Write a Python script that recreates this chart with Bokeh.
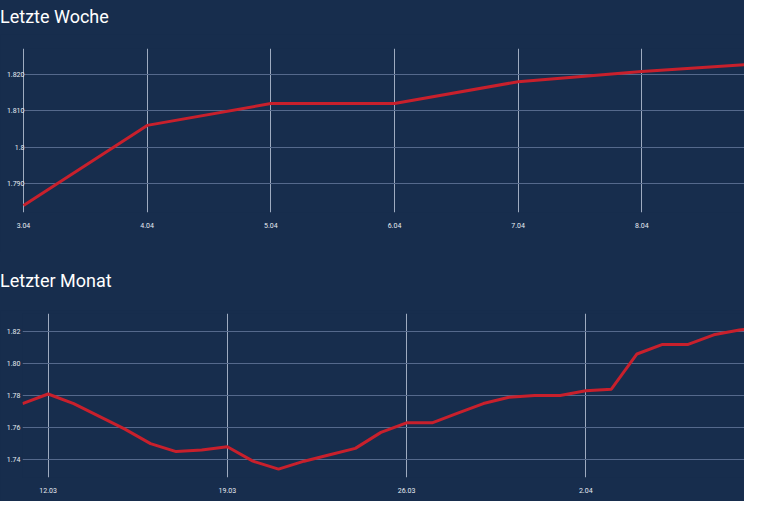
import pandas as pd
from bokeh.plotting import figure
from bokeh.layouts import column
from bokeh.models import FixedTicker, Range1d, Div
from bokeh.embed import file_html
from bokeh.resources import INLINE

# ---- data: last week ----
week_dates = ["2023-04-03", "2023-04-04", "2023-04-05", "2023-04-06",
              "2023-04-07", "2023-04-08", "2023-04-09"]
week_values = [1.784, 1.806, 1.812, 1.812, 1.818, 1.8208, 1.823]
week_x_ticks = ["2023-04-03", "2023-04-04", "2023-04-05", "2023-04-06",
                "2023-04-07", "2023-04-08"]
week_x_labels = ["3.04", "4.04", "5.04", "6.04", "7.04", "8.04"]
week_y_ticks = [1.790, 1.800, 1.810, 1.820]
week_y_labels = ["1.790", "1.8", "1.810", "1.820"]

# ---- data: last month ----
month_dates = pd.date_range("2023-03-11", "2023-04-09", freq="D").strftime("%Y-%m-%d").tolist()
month_values = [1.775, 1.781, 1.775, 1.767, 1.759, 1.750, 1.745, 1.746, 1.748, 1.739,
                1.734, 1.739, 1.743, 1.747, 1.757, 1.763, 1.763, 1.769, 1.775, 1.779,
                1.780, 1.780, 1.783, 1.784, 1.806, 1.812, 1.812, 1.818, 1.821, 1.823]
month_x_ticks = ["2023-03-12", "2023-03-19", "2023-03-26", "2023-04-02"]
month_x_labels = ["12.03", "19.03", "26.03", "2.04"]
month_y_ticks = [1.74, 1.76, 1.78, 1.80, 1.82]
month_y_labels = ["1.74", "1.76", "1.78", "1.80", "1.82"]

BG = "#172d4d"
LINE = "#c8202c"
VGRID = "#9eabc0"
HGRID = "#55698c"
TXT = "#e6ebf2"
DAY = 86400000


def ms(s):
    return int(pd.Timestamp(s).value // 10**6)


def make_title(text, height):
    return Div(text=text, width=744, height=height, margin=(0, 0, 0, 0),
               styles={"background-color": BG, "color": "white",
                       "font-family": "Roboto", "font-size": "18px",
                       "line-height": f"{height}px", "white-space": "nowrap",
                       "overflow": "hidden"})


def make_fig(dates, values, xt, xl, yt, yl, x0, x1, y0, y1,
             height, border_left, border_top, border_bottom, y_standoff):
    p = figure(width=744, height=height, output_backend="svg", toolbar_location=None,
               x_axis_type="datetime",
               x_range=Range1d(x0, x1), y_range=Range1d(y0, y1),
               min_border_left=border_left, min_border_right=0,
               min_border_top=border_top, min_border_bottom=border_bottom)
    p.background_fill_color = BG
    p.border_fill_color = BG
    p.outline_line_color = None

    x = pd.to_datetime(dates)
    p.line(x, values, line_color=LINE, line_width=3)

    xticks = [ms(d) for d in xt]
    p.xaxis.ticker = FixedTicker(ticks=xticks)
    p.xaxis.major_label_overrides = {t: l for t, l in zip(xticks, xl)}
    p.yaxis.ticker = FixedTicker(ticks=yt)
    p.yaxis.major_label_overrides = {t: l for t, l in zip(yt, yl)}

    for ax in (p.xaxis, p.yaxis):
        ax.axis_line_color = None
        ax.major_tick_line_color = None
        ax.minor_tick_line_color = None
        ax.major_tick_out = 0
        ax.major_tick_in = 0
        ax.major_label_text_color = TXT
        ax.major_label_text_font = "Roboto"
        ax.major_label_text_font_size = "7px"
    p.xaxis.major_label_standoff = 10
    p.yaxis.major_label_standoff = y_standoff

    p.xgrid.grid_line_color = VGRID
    p.xgrid.grid_line_width = 1
    p.ygrid.grid_line_color = HGRID
    p.ygrid.grid_line_width = 1
    return p


title_week = make_title("Letzte Woche", 34)
top = make_fig(week_dates, week_values,
               week_x_ticks, week_x_labels, week_y_ticks, week_y_labels,
               ms("2023-04-03") - 0.008 * DAY, ms("2023-04-03") + 5.83 * DAY,
               1.7821, 1.8271, height=218, border_left=21, border_top=14, border_bottom=40,
               y_standoff=-2)

title_month = make_title("Letzter Monat", 58)
bottom = make_fig(month_dates, month_values,
                  month_x_ticks, month_x_labels, month_y_ticks, month_y_labels,
                  ms("2023-03-11"), ms("2023-03-11") + 28.2 * DAY,
                  1.7288, 1.8313, height=191, border_left=22, border_top=3, border_bottom=24,
                  y_standoff=2)

layout = column(title_week, top, title_month, bottom, spacing=0)
layout.styles = {"background-color": BG}

open("out.html", "w").write(file_html(layout, INLINE))
